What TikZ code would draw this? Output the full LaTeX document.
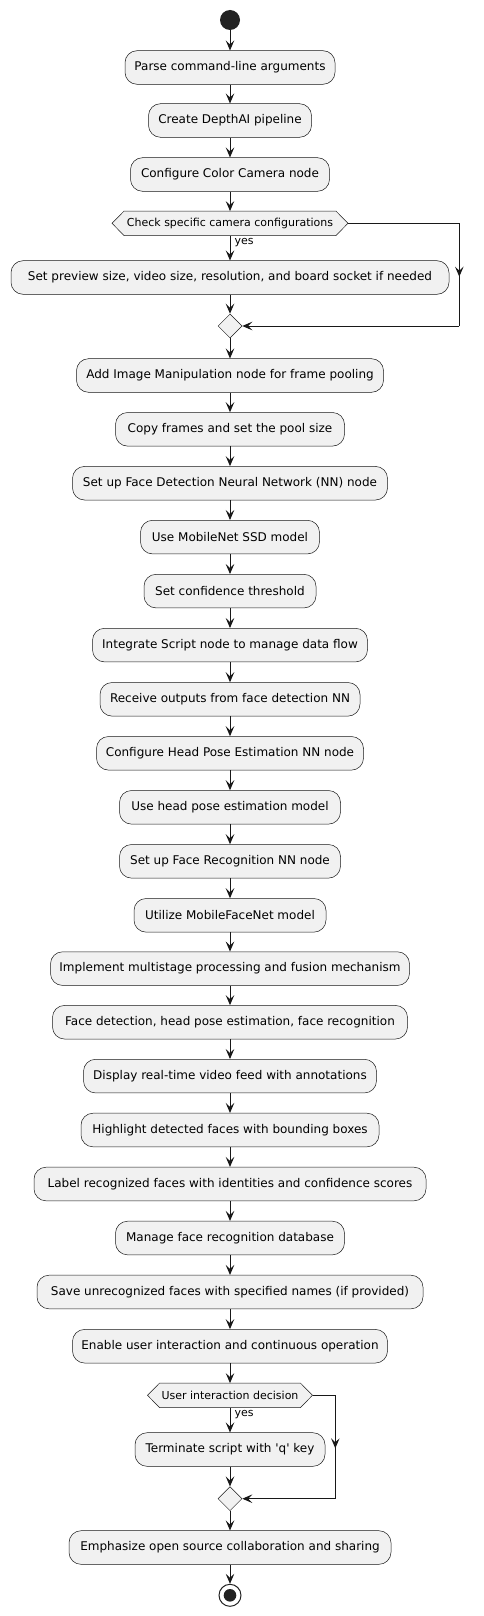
\documentclass[tikz,border=0pt]{standalone}
\usepackage{fontspec}
\setmainfont{DejaVu Sans}[Ligatures=TeXOff]
\usetikzlibrary{arrows.meta,shapes.geometric,backgrounds}
\definecolor{lc}{HTML}{181818}
\definecolor{fc}{HTML}{F1F1F1}
\definecolor{dc}{HTML}{222222}
\tikzset{
  act/.style={draw=lc, line width=0.5pt, fill=fc, rounded corners=12pt, minimum height=33.6pt, inner sep=0pt, font=\fontsize{12}{14}\selectfont, minimum width=#1},
  arr/.style={draw=lc, line width=1pt, -{Stealth[length=10pt,width=8.5pt,inset=4pt]}},
  ln/.style={draw=lc, line width=1pt},
  hexbox/.style={inner sep=0pt, minimum height=24pt, font=\fontsize{11}{13}\selectfont, minimum width=#1},
  hexline/.style={draw=lc, line width=0.5pt, fill=fc},
  lbl/.style={font=\fontsize{11}{13}\selectfont, inner sep=0pt, anchor=base west},
  merge/.style={diamond, draw=lc, line width=0.5pt, fill=fc, minimum width=24pt, minimum height=24pt, inner sep=0pt},
}
\begin{document}
\begin{tikzpicture}[x=1pt,y=-1pt]
\useasboundingbox (0,0) rectangle (484,1616);
\node[circle, fill=dc, minimum size=20pt, inner sep=0pt] (s) at (230,20) {};
\node[act=210] (a1) at (230,67.5) {Parse command-line arguments};
\node[act=163] (a2) at (230,120.5) {Create DepthAI pipeline};
\node[act=199] (a3) at (230,174.5) {Configure Color Camera node};
\node[hexbox=211.6] (h1) at (230,223.3) {Check specific camera configurations};
\node[act=438] (a4) at (230,277.5) {Set preview size, video size, resolution, and board socket if needed};
\node[merge] (m1) at (230,326) {};
\node[act=307] (a5) at (230,375.5) {Add Image Manipulation node for frame pooling};
\node[act=229] (a6) at (230,429.3) {Copy frames and set the pool size};
\node[act=315] (a7) at (230,483.2) {Set up Face Detection Neural Network (NN) node};
\node[act=179] (a8) at (230,537.1) {Use MobileNet SSD model};
\node[act=172] (a9) at (230,591.1) {Set confidence threshold};
\node[act=275] (a10) at (230,645.1) {Integrate Script node to manage data flow};
\node[act=260] (a11) at (230,699.3) {Receive outputs from face detection NN};
\node[act=267] (a12) at (230,753.3) {Configure Head Pose Estimation NN node};
\node[act=221] (a13) at (230,807.3) {Use head pose estimation model};
\node[act=221] (a14) at (230,861.3) {Set up Face Recognition NN node};
\node[act=192] (a15) at (230,915.3) {Utilize MobileFaceNet model};
\node[act=359] (a16) at (230,968.6) {Implement multistage processing and fusion mechanism};
\node[act=355] (a17) at (230,1022.2) {Face detection, head pose estimation, face recognition};
\node[act=293] (a18) at (230,1076.1) {Display real-time video feed with annotations};
\node[act=298] (a19) at (230,1130) {Highlight detected faces with bounding boxes};
\node[act=392] (a20) at (230,1184) {Label recognized faces with identities and confidence scores};
\node[act=229] (a21) at (230,1238) {Manage face recognition database};
\node[act=386] (a22) at (230,1292) {Save unrecognized faces with specified names (if provided)};
\node[act=315] (a23) at (230,1346.2) {Enable user interaction and continuous operation};
\node[hexbox=140.6] (h2) at (230,1395.3) {User interaction decision};
\node[act=190] (a24) at (230,1449.5) {Terminate script with 'q' key};
\node[merge] (m2) at (230,1498.7) {};
\node[act=322] (a25) at (230,1547.5) {Emphasize open source collaboration and sharing};
\node[circle, draw=dc, line width=1pt, minimum size=22pt, inner sep=0pt] (e) at (230,1595.3) {};
\fill[dc] (e.center) circle (6.3pt);
\begin{scope}[on background layer]
\fill[white] (0,0) rectangle (484,1616);
\draw[hexline] ([xshift=-12pt]h1.west) -- (h1.north west) -- (h1.north east) -- ([xshift=12pt]h1.east) -- (h1.south east) -- (h1.south west) -- cycle;
\draw[hexline] ([xshift=-12pt]h2.west) -- (h2.north west) -- (h2.north east) -- ([xshift=12pt]h2.east) -- (h2.south east) -- (h2.south west) -- cycle;
\end{scope}
\coordinate (h1e) at ([xshift=12pt]h1.east);
\coordinate (h2e) at ([xshift=12pt]h2.east);
\coordinate (r1) at (459.3,223.3);
\coordinate (r1m) at (459.3,276.7);
\coordinate (r1b) at (459.3,326);
\coordinate (r2) at (335.3,1395.3);
\coordinate (r2m) at (335.3,1448.3);
\coordinate (r2b) at (335.3,1498.7);
% main flow
\draw[arr] (s) -- (a1);
\draw[arr] (a1) -- (a2);
\draw[arr] (a2) -- (a3);
\draw[arr] (a3.south) -- (h1.north);
\draw[arr] (h1.south) -- (a4.north);
\draw[arr] (a4) -- (m1);
\draw[ln] (h1e) -- (r1) -- (r1b);
\draw[arr] (r1) -- (r1m);
\draw[arr] (r1b) -- (m1.east);
\draw[arr] (m1) -- (a5);
\draw[arr] (a5) -- (a6);
\draw[arr] (a6) -- (a7);
\draw[arr] (a7) -- (a8);
\draw[arr] (a8) -- (a9);
\draw[arr] (a9) -- (a10);
\draw[arr] (a10) -- (a11);
\draw[arr] (a11) -- (a12);
\draw[arr] (a12) -- (a13);
\draw[arr] (a13) -- (a14);
\draw[arr] (a14) -- (a15);
\draw[arr] (a15) -- (a16);
\draw[arr] (a16) -- (a17);
\draw[arr] (a17) -- (a18);
\draw[arr] (a18) -- (a19);
\draw[arr] (a19) -- (a20);
\draw[arr] (a20) -- (a21);
\draw[arr] (a21) -- (a22);
\draw[arr] (a22) -- (a23);
\draw[arr] (a23.south) -- (h2.north);
\draw[arr] (h2.south) -- (a24.north);
\draw[arr] (a24) -- (m2);
\draw[ln] (h2e) -- (r2) -- (r2b);
\draw[arr] (r2) -- (r2m);
\draw[arr] (r2b) -- (m2.east);
\draw[arr] (m2) -- (a25);
\draw[arr] (a25) -- (e);
\node[lbl] (y1) at (234.3,244.5) {yes};
\node[lbl] (y2) at (234.3,1416.5) {yes};
\end{tikzpicture}
\end{document}
